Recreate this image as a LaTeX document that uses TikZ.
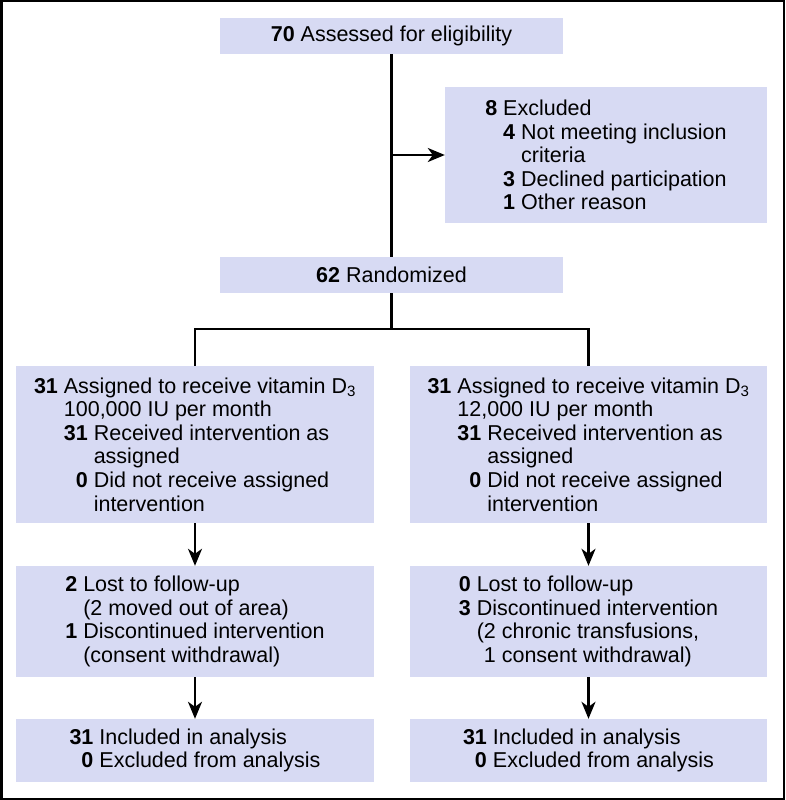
\documentclass[tikz,border=0pt]{standalone}
\usepackage{fontspec}
\setmainfont{Liberation Sans}
\usetikzlibrary{arrows.meta}
\definecolor{boxfill}{RGB}{215,218,243}

\begin{document}
\begin{tikzpicture}[x=1pt, y=-1pt,
  font=\fontsize{21.5}{23.6}\selectfont,
  box/.style 2 args={fill=boxfill, inner sep=0pt, align=left,
    minimum width=#1, minimum height=#2},
  link/.style={line width=2.2pt},
  arr/.style={link, -{Stealth[length=17pt, width=14pt, inset=5pt]}}]
\def\skip#1{\phantom{\textbf{#1} }}

\useasboundingbox (0,0) rectangle (785,800);
\draw[line width=2.5pt] (1.25,1.25) rectangle (783.75,798.75);

% enrolment
\node[box={343pt}{36pt}] (assess) at (391.5,36) {\textbf{70} Assessed for eligibility};
\node[box={322pt}{136pt}] (excl) at (606,155)
  {\textbf{8} Excluded\\
   \skip{8}\textbf{4} Not meeting inclusion\\
   \skip{8}\skip{4}criteria\\
   \skip{8}\textbf{3} Declined participation\\
   \skip{8}\textbf{1} Other reason};
\node[box={343pt}{36pt}] (random) at (391.5,275) {\textbf{62} Randomized};

% allocation
\node[box={358pt}{157pt}] (armA) at (195,444.5)
  {\textbf{31} Assigned to receive vitamin D\textsubscript{3}\\
   \skip{31}100,000 IU per month\\
   \skip{31}\textbf{31} Received intervention as\\
   \skip{31}\skip{31}assigned\\
   \skip{31}\phantom{\textbf{3}}\textbf{0} Did not receive assigned\\
   \skip{31}\skip{31}intervention};
\node[box={357pt}{157pt}] (armB) at (588.5,444.5)
  {\textbf{31} Assigned to receive vitamin D\textsubscript{3}\\
   \skip{31}12,000 IU per month\\
   \skip{31}\textbf{31} Received intervention as\\
   \skip{31}\skip{31}assigned\\
   \skip{31}\phantom{\textbf{3}}\textbf{0} Did not receive assigned\\
   \skip{31}\skip{31}intervention};

% follow-up
\node[box={358pt}{111pt}] (lossA) at (195,621.5)
  {\textbf{2} Lost to follow-up\\
   \skip{2}(2 moved out of area)\\
   \textbf{1} Discontinued intervention\\
   \skip{1}(consent withdrawal)};
\node[box={357pt}{111pt}] (lossB) at (588.5,621.5)
  {\textbf{0} Lost to follow-up\\
   \textbf{3} Discontinued intervention\\
   \skip{3}(2 chronic transfusions,\\
   \skip{3}\phantom{(}1 consent withdrawal)};

% analysis
\node[box={358pt}{63pt}] (anaA) at (195,750.5)
  {\textbf{31} Included in analysis\\
   \phantom{\textbf{3}}\textbf{0} Excluded from analysis};
\node[box={357pt}{63pt}] (anaB) at (588.5,750.5)
  {\textbf{31} Included in analysis\\
   \phantom{\textbf{3}}\textbf{0} Excluded from analysis};

\coordinate (fork) at (391.5,329);
\draw[link] (assess) -- (random);
\draw[arr] (excl.west -| assess.south) -- (excl.west);
\draw[link] (random) -- (fork);
\draw[link] (armA.north) |- (fork) -| (armB.north);
\draw[arr] (armA) -- (lossA);
\draw[arr] (armB) -- (lossB);
\draw[arr] (lossA) -- (anaA);
\draw[arr] (lossB) -- (anaB);
\end{tikzpicture}
\end{document}
